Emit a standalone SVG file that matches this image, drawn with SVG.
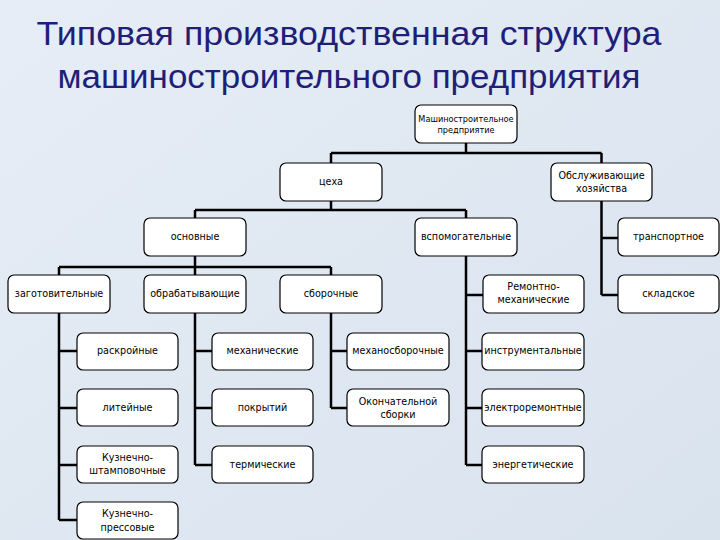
<svg xmlns="http://www.w3.org/2000/svg" width="720" height="540" viewBox="0 0 720 540">
<defs>
<linearGradient id="bg" x1="0" y1="0" x2="1" y2="1">
<stop offset="0" stop-color="#e6edf6"/>
<stop offset="1" stop-color="#d9e3ee"/>
</linearGradient>
<style>
.box{fill:#ffffff;stroke:#000000;stroke-width:1.2}
.t{font-family:"DejaVu Sans","Liberation Sans",sans-serif;font-size:9.6px;fill:#000000;text-anchor:middle}
.ts{font-family:"DejaVu Sans","Liberation Sans",sans-serif;font-size:8.2px;fill:#000000;text-anchor:middle}
.title{font-family:"Liberation Sans Narrow","Liberation Sans",sans-serif;font-size:34px;fill:#1f1f7a;text-anchor:middle}
.c{stroke:#000000;stroke-width:2.5;fill:none}
</style>
</defs>
<rect x="0" y="0" width="720" height="540" fill="url(#bg)"/>
<g id="title">
<text class="title" x="349" y="45" textLength="625" lengthAdjust="spacingAndGlyphs">Типовая производственная структура</text>
<text class="title" x="349" y="88" textLength="583" lengthAdjust="spacingAndGlyphs">машиностроительного предприятия</text>
</g>
<g id="connectors">
<path class="c" d="M466,143V153M331,153H601.5M331,153V163M601.5,153V163"/>
<path class="c" d="M331,201V210M195,210H466M195,210V218M466,210V218"/>
<path class="c" d="M195,256V267M59,267H331M59,267V275M195,267V275M331,267V275"/>
<path class="c" d="M601.5,201V295M601.5,238H618M601.5,295H618"/>
<path class="c" d="M466,256V465M466,295H483M466,351H482M466,408H482M466,465H482"/>
<path class="c" d="M59,313V520M59,351H77M59,408H77M59,465H77M59,520H77"/>
<path class="c" d="M195,313V465M195,351H212M195,408H212M195,465H212"/>
<path class="c" d="M331,313V408M331,351H347M331,408H347"/>
</g>
<g id="n-root"><rect class="box" x="415" y="105" width="102" height="38" rx="6"/><text class="ts" x="466" y="122">Машиностроительное</text><text class="ts" x="466" y="133">предприятие</text></g>
<g id="n-tseha"><rect class="box" x="280" y="163" width="102" height="38" rx="6"/><text class="t" x="331" y="185">цеха</text></g>
<g id="n-obsl"><rect class="box" x="551" y="163" width="101" height="38" rx="6"/><text class="t" x="601.5" y="179">Обслуживающие</text><text class="t" x="601.5" y="192">хозяйства</text></g>
<g id="n-osn"><rect class="box" x="144" y="218" width="102" height="38" rx="6"/><text class="t" x="195" y="240">основные</text></g>
<g id="n-vsp"><rect class="box" x="415" y="218" width="102" height="38" rx="6"/><text class="t" x="466" y="240">вспомогательные</text></g>
<g id="n-transp"><rect class="box" x="618" y="218" width="101" height="38" rx="6"/><text class="t" x="668.5" y="240">транспортное</text></g>
<g id="n-zag"><rect class="box" x="8" y="275" width="102" height="38" rx="6"/><text class="t" x="59" y="297">заготовительные</text></g>
<g id="n-obr"><rect class="box" x="144" y="275" width="102" height="38" rx="6"/><text class="t" x="195" y="297">обрабатывающие</text></g>
<g id="n-sbor"><rect class="box" x="280" y="275" width="102" height="38" rx="6"/><text class="t" x="331" y="297">сборочные</text></g>
<g id="n-remont"><rect class="box" x="483" y="275" width="101" height="38" rx="6"/><text class="t" x="533.5" y="290">Ремонтно-</text><text class="t" x="533.5" y="303">механические</text></g>
<g id="n-sklad"><rect class="box" x="618" y="275" width="101" height="38" rx="6"/><text class="t" x="668.5" y="297">складское</text></g>
<g id="n-raskr"><rect class="box" x="77" y="333" width="101" height="37" rx="6"/><text class="t" x="127.5" y="354">раскройные</text></g>
<g id="n-lit"><rect class="box" x="77" y="389" width="101" height="37" rx="6"/><text class="t" x="127.5" y="411">литейные</text></g>
<g id="n-kshtamp"><rect class="box" x="77" y="446" width="101" height="37" rx="6"/><text class="t" x="127.5" y="461">Кузнечно-</text><text class="t" x="127.5" y="474">штамповочные</text></g>
<g id="n-kpress"><rect class="box" x="77" y="502" width="101" height="37" rx="6"/><text class="t" x="127.5" y="517">Кузнечно-</text><text class="t" x="127.5" y="531">прессовые</text></g>
<g id="n-meh"><rect class="box" x="212" y="333" width="101" height="37" rx="6"/><text class="t" x="262.5" y="354">механические</text></g>
<g id="n-pokr"><rect class="box" x="212" y="389" width="101" height="37" rx="6"/><text class="t" x="262.5" y="411">покрытий</text></g>
<g id="n-term"><rect class="box" x="212" y="446" width="101" height="37" rx="6"/><text class="t" x="262.5" y="468">термические</text></g>
<g id="n-mehsb"><rect class="box" x="347" y="333" width="102" height="37" rx="6"/><text class="t" x="398" y="354">механосборочные</text></g>
<g id="n-okonch"><rect class="box" x="347" y="389" width="102" height="37" rx="6"/><text class="t" x="398" y="405">Окончательной</text><text class="t" x="398" y="418">сборки</text></g>
<g id="n-instr"><rect class="box" x="482" y="333" width="102" height="37" rx="6"/><text class="t" x="533" y="354">инструментальные</text></g>
<g id="n-elrem"><rect class="box" x="482" y="389" width="102" height="37" rx="6"/><text class="t" x="533" y="411">электроремонтные</text></g>
<g id="n-energ"><rect class="box" x="482" y="446" width="102" height="37" rx="6"/><text class="t" x="533" y="468">энергетические</text></g>
</svg>
